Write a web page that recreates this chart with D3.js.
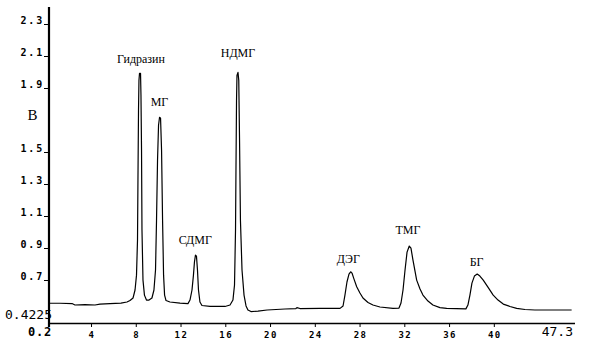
<!DOCTYPE html>
<html><head><meta charset="utf-8">
<script src="https://cdn.jsdelivr.net/npm/d3@7"></script>
<style>html,body{margin:0;padding:0;background:#fff;}svg{display:block;}</style>
</head><body>
<script>
// ---- data ----
const timeMin = 0.2, timeMax = 47.3;
const signalMin = 0.4225, signalMax = 2.4;
const times = [0.2,1.18,2.26,2.52,3.42,4.31,4.76,5.65,6.63,7.17,7.44,7.71,7.89,8.02,8.11,8.15,8.20,8.24,8.29,8.38,8.42,8.47,8.51,8.60,8.73,8.91,9.14,9.40,9.58,9.72,9.81,9.90,9.99,10.08,10.17,10.26,10.35,10.44,10.53,10.66,11.01,11.91,12.62,12.80,12.98,13.11,13.20,13.29,13.38,13.47,13.56,13.69,13.87,14.59,15.93,16.38,16.64,16.78,16.87,16.91,16.96,17.00,17.09,17.16,17.23,17.31,17.45,17.63,17.81,17.98,18.25,18.88,19.69,21.29,22.27,22.36,22.63,24.42,26.21,26.48,26.65,26.83,27.01,27.16,27.28,27.46,27.70,27.99,28.26,28.71,29.15,29.78,30.94,31.48,31.66,31.84,32.02,32.20,32.40,32.55,32.73,33.06,33.36,33.62,34.07,34.51,35.14,35.74,37.46,37.64,37.82,38.00,38.22,38.47,38.71,39.01,39.43,39.90,40.33,40.80,41.40,42.00,42.74,43.63,45.42,46.91];
const signal = [0.546,0.546,0.544,0.535,0.538,0.535,0.541,0.544,0.547,0.554,0.563,0.579,0.629,0.722,0.941,1.316,1.754,1.941,1.985,1.985,1.850,1.504,1.004,0.691,0.597,0.566,0.566,0.579,0.629,0.754,1.066,1.441,1.660,1.710,1.704,1.504,1.066,0.722,0.597,0.563,0.554,0.547,0.544,0.566,0.629,0.722,0.804,0.8475,0.841,0.754,0.629,0.554,0.532,0.526,0.526,0.535,0.566,0.660,1.004,1.379,1.816,1.972,1.991,1.941,1.566,1.066,0.754,0.597,0.529,0.504,0.494,0.497,0.504,0.510,0.513,0.519,0.513,0.514,0.514,0.529,0.597,0.679,0.729,0.743,0.735,0.697,0.649,0.610,0.579,0.551,0.535,0.5225,0.514,0.516,0.5475,0.629,0.754,0.866,0.904,0.891,0.816,0.691,0.635,0.597,0.560,0.535,0.519,0.514,0.511,0.535,0.597,0.672,0.716,0.729,0.716,0.691,0.647,0.597,0.566,0.541,0.526,0.514,0.507,0.504,0.504,0.504];
const peakNames = ["Гидразин","МГ","СДМГ","НДМГ","ДЭГ","ТМГ","БГ"];
const peakLabelTimes = [8.42,10.07,13.27,17.09,26.95,32.28,38.42];
const peakLabelLevels = [2.0475,1.7806,0.9144,2.085,0.7956,0.9788,0.7788];
const yTickValues = [2.3,2.1,1.9,1.5,1.3,1.1,0.9,0.7];
const xTickValues = [4,8,12,16,20,24,28,32,36,40];
const yUnit = "В", yUnitLevel = 1.7;

// ---- chart ----
const W = 592, H = 357;
const svg = d3.select("body").append("svg").attr("width", W).attr("height", H)
  .style("background", "#fff");
const x = d3.scaleLinear().domain([timeMin, timeMax]).range([49, 576]);
const y = d3.scaleLinear().domain([signalMin, signalMax]).range([323, 7]);

// min/max labels
svg.append("text").attr("x", 5).attr("y", 319)
  .attr("font-family", "DejaVu Sans Mono").attr("font-size", 13)
  .text(signalMin.toString());
svg.append("text").attr("x", 28).attr("y", 336)
  .attr("font-family", "DejaVu Sans Mono").attr("font-weight", "bold").attr("font-size", 12)
  .attr("letter-spacing", 0.8).text(timeMin.toString());
svg.append("text").attr("x", 573).attr("y", 336).attr("text-anchor", "end")
  .attr("font-family", "DejaVu Sans Mono").attr("font-size", 13)
  .text(timeMax.toString());

// y axis
const yAxis = svg.append("g");
yAxis.selectAll("line.tick").data(yTickValues).join("line")
  .attr("x1", 44).attr("x2", 49)
  .attr("y1", d => Math.round(y(d)) + 1.5).attr("y2", d => Math.round(y(d)) + 1.5)
  .attr("stroke", "#000").attr("stroke-width", 1);
yAxis.selectAll("text").data(yTickValues).join("text")
  .attr("x", 44).attr("y", d => y(d) + 1)
  .attr("text-anchor", "end")
  .attr("font-family", "DejaVu Sans Mono").attr("font-weight", "bold").attr("font-size", 10)
  .attr("letter-spacing", 1.8)
  .text(d => d3.format(".1f")(d));
svg.append("text").attr("x", 32.5).attr("y", y(yUnitLevel) + 1).attr("text-anchor", "middle")
  .attr("font-family", "Liberation Serif").attr("font-size", 15)
  .text(yUnit);

// x axis ticks
const xAxis = svg.append("g");
xAxis.selectAll("line").data(xTickValues).join("line")
  .attr("x1", d => x(d)).attr("x2", d => x(d)).attr("y1", 323).attr("y2", 327)
  .attr("stroke", "#000").attr("stroke-width", 1);
xAxis.selectAll("text").data(xTickValues).join("text")
  .attr("x", d => x(d) + 0.5).attr("y", 338).attr("text-anchor", "middle")
  .attr("font-family", "DejaVu Sans Mono").attr("font-weight", "bold").attr("font-size", 9)
  .attr("letter-spacing", 1.5)
  .text(d => d);

// axis lines
svg.append("line").attr("x1", 49).attr("x2", x(timeMax) - 1).attr("y1", 323.5).attr("y2", 323.5)
  .attr("stroke", "#000").attr("stroke-width", 1.5);
svg.append("line").attr("x1", 49).attr("x2", 49).attr("y1", 7).attr("y2", 327)
  .attr("stroke", "#000").attr("stroke-width", 2.2);

// trace
const pts = times.map((t, i) => [t, signal[i]]);
svg.append("path").datum(pts)
  .attr("fill", "none").attr("stroke", "#000").attr("stroke-width", 1.2)
  .attr("stroke-linejoin", "round")
  .attr("d", d3.line().x(d => x(d[0])).y(d => y(d[1])));

// peak labels
svg.selectAll("text.peak").data(peakNames).join("text").attr("class", "peak")
  .attr("x", (d, i) => x(peakLabelTimes[i])).attr("y", (d, i) => y(peakLabelLevels[i]))
  .attr("text-anchor", "middle")
  .attr("font-family", "Liberation Serif").attr("font-size", 12)
  .text(d => d);
</script>
</body></html>
